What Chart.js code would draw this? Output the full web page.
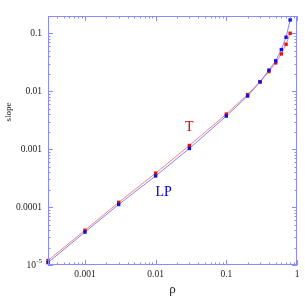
<!DOCTYPE html>
<html>
<head>
<meta charset="utf-8">
<script src="https://cdn.jsdelivr.net/npm/chart.js@4.4.1/dist/chart.umd.min.js"></script>
<style>
html,body{margin:0;padding:0;background:#fff;}
#wrap{width:305px;height:305px;position:relative;}
</style>
</head>
<body>
<div id="wrap"><canvas id="c" width="305" height="305"></canvas></div>
<script>
// ---- data ----
const rho = [0.0003, 0.001, 0.003, 0.01, 0.03, 0.1, 0.2, 0.3, 0.4, 0.5, 0.6, 0.7, 0.8];
const slopeT = [1.2e-5, 3.98e-5, 1.21e-4, 3.86e-4, 1.16e-3, 4.05e-3, 8.8e-3, 0.0147, 0.0219, 0.031, 0.0443, 0.0651, 0.1007];
const slopeLP = [1.1e-5, 3.7e-5, 1.11e-4, 3.46e-4, 1.03e-3, 3.74e-3, 8.3e-3, 0.0145, 0.0232, 0.0336, 0.0526, 0.086, 0.171];
const xTickValues = [0.001, 0.01, 0.1, 1];
const xTickLabels = ['0.001', '0.01', '0.1', '1'];
const yTickValues = [1e-5, 1e-4, 1e-3, 0.01, 0.1];
const yTickLabels = ['', '0.0001', '0.001', '0.01', '0.1'];
const seriesNames = ['T', 'LP'];
const seriesLabelPos = [[0.03, 2.35e-3], [0.013, 1.78e-4]];
const xRange = [0.0003, 1];
const yRange = [1e-5, 0.2];

const axisColor = '#8a8aff';
const serif = '"Liberation Serif", "DejaVu Serif", serif';

function toPts(xs, ys){ return xs.map((x,i)=>({x:x, y:ys[i]})); }

const framePlugin = {
  id: 'frame',
  afterDraw(chart){
    const ctx = chart.ctx, a = chart.chartArea;
    const xs = chart.scales.x, ys = chart.scales.y;
    ctx.save();
    ctx.strokeStyle = axisColor;
    ctx.lineWidth = 1;
    ctx.strokeRect(a.left+0.5, a.top+0.5, a.right-a.left-1, a.bottom-a.top-1);
    // inward ticks
    function ticksFor(min, max){
      const out = [];
      for (let e = Math.floor(Math.log10(min)); e <= Math.ceil(Math.log10(max)); e++){
        for (let m = 1; m <= 9; m++){
          const v = m*Math.pow(10,e);
          if (v >= min*0.999 && v <= max*1.001) out.push({v:v, major: m===1});
        }
      }
      return out;
    }
    ctx.beginPath();
    ticksFor(xRange[0], xRange[1]).forEach(t=>{
      const px = Math.round(xs.getPixelForValue(t.v))+0.5;
      const L = t.major ? 5 : 2.5;
      ctx.moveTo(px, a.bottom); ctx.lineTo(px, a.bottom-L);
      ctx.moveTo(px, a.top); ctx.lineTo(px, a.top+L);
    });
    ticksFor(yRange[0], yRange[1]).forEach(t=>{
      const py = Math.round(ys.getPixelForValue(t.v))+0.5;
      const L = t.major ? 5 : 2.5;
      ctx.moveTo(a.left, py); ctx.lineTo(a.left+L, py);
      ctx.moveTo(a.right, py); ctx.lineTo(a.right-L, py);
    });
    ctx.stroke();

    // 10^-5 label
    ctx.fillStyle = '#222';
    ctx.textBaseline = 'middle';
    ctx.textAlign = 'right';
    const py5 = ys.getPixelForValue(1e-5);
    ctx.font = '7px ' + serif;
    ctx.fillText('-5', 42, py5-3.5);
    ctx.font = '9.5px ' + serif;
    ctx.fillText('10', 36, py5);

    // axis titles
    ctx.textAlign = 'center';
    ctx.font = '13px ' + serif;
    ctx.fillText('\u03C1', (a.left+a.right)/2, 290);
    ctx.save();
    ctx.translate(8.5, 112);
    ctx.rotate(-Math.PI/2);
    ctx.font = '9px ' + serif;
    ctx.fillText('slope', 0, 0);
    ctx.restore();

    // series labels
    ctx.font = '14px ' + serif;
    const cols = ['#dd0000', '#0000cc'];
    seriesNames.forEach((n,i)=>{
      ctx.fillStyle = cols[i];
      ctx.fillText(n, xs.getPixelForValue(seriesLabelPos[i][0]), ys.getPixelForValue(seriesLabelPos[i][1]));
    });
    ctx.restore();
  }
};

new Chart(document.getElementById('c'), {
  type: 'scatter',
  data: {
    datasets: [
      {
        label: seriesNames[0],
        data: toPts(rho, slopeT),
        showLine: true,
        clip: false,
        borderColor: 'rgba(240,110,110,0.85)',
        borderWidth: 1,
        pointStyle: 'rect',
        pointRadius: 2.4,
        pointBackgroundColor: '#e41010',
        pointBorderWidth: 0,
        order: 2
      },
      {
        label: seriesNames[1],
        data: toPts(rho, slopeLP),
        showLine: true,
        clip: false,
        borderColor: 'rgba(110,110,240,0.85)',
        borderWidth: 1,
        pointStyle: 'rect',
        pointRadius: 2.4,
        pointBackgroundColor: '#1010e0',
        pointBorderWidth: 0,
        order: 1
      }
    ]
  },
  options: {
    responsive: false,
    animation: false,
    devicePixelRatio: 1,
    layout: { padding: { left: 0, right: 8, top: 16, bottom: 0 } },
    plugins: { legend: { display: false }, tooltip: { enabled: false } },
    scales: {
      x: {
        type: 'logarithmic',
        min: xRange[0], max: xRange[1],
        grid: { display: false, drawTicks: false },
        border: { display: false },
        afterBuildTicks: s => { s.ticks = xTickValues.map(v=>({value:v})); },
        afterFit: s => { s.height = 40; },
        ticks: {
          padding: 4,
          color: '#222',
          font: { family: serif, size: 9.5 },
          maxRotation: 0,
          autoSkip: false,
          callback: (v) => { const i = xTickValues.indexOf(v); return i >= 0 ? xTickLabels[i] : ''; }
        }
      },
      y: {
        type: 'logarithmic',
        min: yRange[0], max: yRange[1],
        grid: { display: false, drawTicks: false },
        border: { display: false },
        afterBuildTicks: s => { s.ticks = yTickValues.map(v=>({value:v})); },
        afterFit: s => { s.width = 48; },
        ticks: {
          padding: 6,
          color: '#222',
          font: { family: serif, size: 9.5 },
          autoSkip: false,
          callback: (v) => { const i = yTickValues.indexOf(v); return i >= 0 ? yTickLabels[i] : ''; }
        }
      }
    }
  },
  plugins: [framePlugin]
});
</script>
</body>
</html>
